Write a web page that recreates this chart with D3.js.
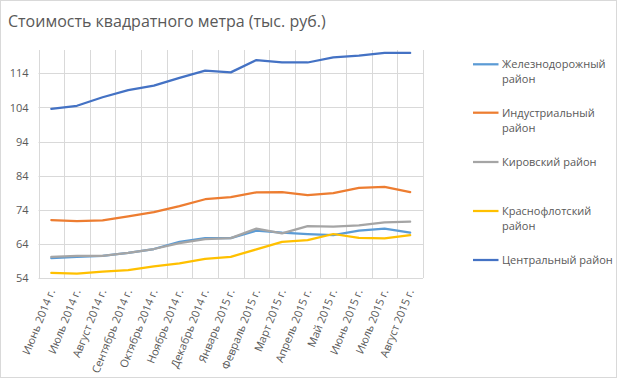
<!DOCTYPE html>
<meta charset="utf-8">
<style>
body { margin: 0; background: #fff; }
text { font-family: "Open Sans", sans-serif; fill: #595959; }
.grid line { stroke: #d9d9d9; stroke-width: 1; }
.axis path, .axis line { fill: none; stroke: none; }
</style>
<body>
<script src="https://d3js.org/d3.v7.min.js"></script>
<script>
var months = ["Июнь 2014 г.", "Июль 2014 г.", "Август 2014 г.", "Сентябрь 2014 г.", "Октябрь 2014 г.",
  "Ноябрь 2014 г.", "Декабрь 2014 г.", "Январь 2015 г.", "Февраль 2015 г.", "Март 2015 г.",
  "Апрель 2015 г.", "Май 2015 г.", "Июнь 2015 г.", "Июль 2015 г.", "Август 2015 г."];

var yTicks = [54, 64, 74, 84, 94, 104, 114];

var zheleznodorozhny = [59.8, 60.2, 60.5, 61.4, 62.5, 64.6, 65.7, 65.7, 67.9, 67.3, 66.9, 66.6, 67.9, 68.5, 67.3];
var industrialny = [71.0, 70.7, 70.9, 72.1, 73.3, 75.1, 77.1, 77.7, 79.1, 79.2, 78.3, 78.9, 80.4, 80.7, 79.2];
var kirovsky = [60.2, 60.5, 60.5, 61.4, 62.5, 64.2, 65.4, 65.7, 68.5, 67.1, 69.2, 69.1, 69.4, 70.3, 70.5];
var krasnoflotsky = [55.5, 55.3, 55.9, 56.3, 57.4, 58.3, 59.6, 60.2, 62.4, 64.6, 65.1, 66.9, 65.8, 65.6, 66.6];
var centralny = [103.6, 104.5, 107.0, 109.1, 110.4, 112.7, 114.8, 114.3, 117.9, 117.2, 117.2, 118.7, 119.2, 120.0, 120.0];

var seriesNames = [["Железнодорожный", "район"], ["Индустриальный", "район"], ["Кировский район"],
  ["Краснофлотский", "район"], ["Центральный район"]];
var seriesColors = ["#5b9bd5", "#ed7d31", "#a5a5a5", "#ffc000", "#4472c4"];
var seriesValues = [zheleznodorozhny, industrialny, kirovsky, krasnoflotsky, centralny];

var W = 619, H = 380;
var plot = {left: 38.5, right: 423, top: 50, bottom: 278};

var svg = d3.select("body").append("svg")
    .attr("width", W)
    .attr("height", H);

svg.append("rect")
    .attr("x", 0.5).attr("y", 0.5)
    .attr("width", W - 3).attr("height", H - 3)
    .attr("fill", "#fff")
    .attr("stroke", "#d9d9d9");

svg.append("text")
    .attr("x", 8)
    .attr("y", 27)
    .style("font-size", "16px")
    .text("Стоимость квадратного метра (тыс. руб.)");

var x = d3.scaleBand()
    .domain(months)
    .range([plot.left, plot.right]);

var y = d3.scaleLinear()
    .domain([54, 54 + (plot.bottom - plot.top) / 3.41])
    .range([plot.bottom, plot.top]);

// horizontal grid
svg.append("g")
    .attr("class", "grid")
    .selectAll("line")
    .data(yTicks)
  .enter().append("line")
    .attr("x1", plot.left).attr("x2", plot.right)
    .attr("y1", function(d) { return Math.round(y(d)) + 0.5; })
    .attr("y2", function(d) { return Math.round(y(d)) + 0.5; });

// vertical grid at category boundaries
var bounds = months.map(function(m) { return x(m); }).concat([plot.right]);
svg.append("g")
    .attr("class", "grid")
    .selectAll("line")
    .data(bounds)
  .enter().append("line")
    .attr("x1", function(d) { return Math.round(d) + 0.5; })
    .attr("x2", function(d) { return Math.round(d) + 0.5; })
    .attr("y1", plot.top).attr("y2", plot.bottom);

var yAxis = d3.axisLeft(y)
    .tickValues(yTicks)
    .tickSize(0)
    .tickPadding(10);

svg.append("g")
    .attr("class", "axis")
    .attr("transform", "translate(" + plot.left + ",0)")
    .call(yAxis)
    .selectAll("text")
    .style("font-size", "11px")
    .style("font-family", "'Open Sans', sans-serif")
    .attr("fill", "#595959");

// x labels rotated
svg.append("g")
    .selectAll("text")
    .data(months)
  .enter().append("text")
    .attr("text-anchor", "end")
    .style("font-size", "11px")
    .attr("transform", function(d) {
      return "translate(" + (x(d) + x.bandwidth() / 2 + 4) + "," + (plot.bottom + 13) + ") rotate(-68)";
    })
    .text(function(d) { return d; });

var line = d3.line()
    .x(function(d, i) { return x(months[i]) + x.bandwidth() / 2; })
    .y(function(d) { return y(d); });

svg.append("g")
    .selectAll("path")
    .data(seriesValues)
  .enter().append("path")
    .attr("fill", "none")
    .attr("stroke", function(d, i) { return seriesColors[i]; })
    .attr("stroke-width", 2.25)
    .attr("stroke-linejoin", "round")
    .attr("stroke-linecap", "round")
    .attr("d", line);

// legend
var legendY = [64.3, 112.7, 162, 211, 260];
var legend = svg.append("g")
    .selectAll("g")
    .data(seriesNames)
  .enter().append("g")
    .attr("transform", function(d, i) { return "translate(473," + legendY[i] + ")"; });

legend.append("line")
    .attr("x1", 0).attr("x2", 25.5)
    .attr("stroke", function(d, i) { return seriesColors[i]; })
    .attr("stroke-width", 2.25);

legend.append("text")
    .attr("x", 29)
    .attr("y", 4)
    .style("font-size", "11px")
    .selectAll("tspan")
    .data(function(d) { return d; })
  .enter().append("tspan")
    .attr("x", 29)
    .attr("dy", function(d, i) { return i === 0 ? 0 : 15; })
    .text(function(d) { return d; });
</script>
</body>
